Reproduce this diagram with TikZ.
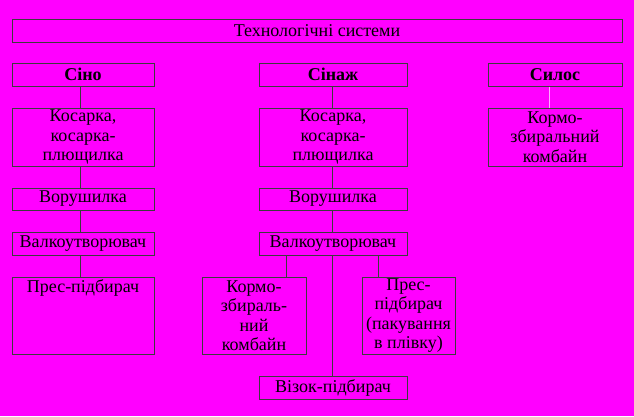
\documentclass[tikz,border=0pt]{standalone}
\usepackage{fontspec}
\setmainfont{Liberation Serif}
\newfontfamily\tnr{Liberation Serif}
\definecolor{bgmag}{RGB}{255,0,255}
\definecolor{edge}{RGB}{60,60,60}
\definecolor{paleline}{RGB}{255,170,255}
\begin{document}
\begin{tikzpicture}[x=1pt,y=-1pt,
  box/.style={draw=edge,line width=1pt,inner sep=0pt,align=center,
    font=\tnr\fontsize{18}{19.5}\selectfont,text=black},
  hbox/.style={box,font=\tnr\bfseries\fontsize{18}{19.5}\selectfont},
  lbl/.style={inner sep=0pt,align=center,font=\tnr\fontsize{18}{19.5}\selectfont,text=black},
  conn/.style={draw=edge,line width=1pt}]
\useasboundingbox (0,0) rectangle (634,416);
\fill[bgmag] (0,0) rectangle (634,416);
% title
\node[box,minimum width=610pt,minimum height=23pt] (title) at (317,30.5) {Технологічні системи};
% heads
\node[hbox,minimum width=142pt,minimum height=23pt] (sino) at (83,74.5) {Сіно};
\node[hbox,minimum width=148pt,minimum height=23pt] (sinazh) at (333,74.5) {Сінаж};
\node[hbox,minimum width=134pt,minimum height=23pt] (silos) at (555,74.5) {Силос};
% row 2
\node[box,minimum width=142pt,minimum height=58pt] (kos1) at (83,137) {Косарка,\\косарка-\\плющилка};
\node[box,minimum width=148pt,minimum height=58pt] (kos2) at (333,137) {Косарка,\\косарка-\\плющилка};
\node[box,minimum width=134pt,minimum height=58pt] (komb3) at (555,137) {Кормо-\\збиральний\\комбайн};
% row 3
\node[box,minimum width=142pt,minimum height=22pt] (vor1) at (83,199) {Ворушилка};
\node[box,minimum width=148pt,minimum height=22pt] (vor2) at (333,199) {Ворушилка};
% row 4
\node[box,minimum width=142pt,minimum height=23pt] (val1) at (83,243.5) {Валкоутворювач};
\node[box,minimum width=148pt,minimum height=23pt] (val2) at (333,243.5) {Валкоутворювач};
% row 5
\node[box,minimum width=142pt,minimum height=77pt] (pres1) at (83,315.5) {};
\node[lbl] (pres1t) at (83,288) {Прес-підбирач};
\node[box,minimum width=104pt,minimum height=77pt] (komb2) at (254,315.5) {Кормо-\\збираль-\\ний\\комбайн};
\node[box,minimum width=93pt,minimum height=77pt] (pres2) at (408.5,315.5) {Прес-\\підбирач\\(пакування\\в плівку)};
\node[box,minimum width=148pt,minimum height=23pt] (vizok) at (333,387.5) {Візок-підбирач};
% connector columns
\coordinate (c1) at (80,0);
\coordinate (c2) at (332,0);
\coordinate (c2l) at (286,0);
\coordinate (c2r) at (378,0);
\coordinate (c3) at (549,0);
\draw[conn] (sino.south -| c1) -- (kos1.north -| c1);
\draw[conn] (kos1.south -| c1) -- (vor1.north -| c1);
\draw[conn] (vor1.south -| c1) -- (val1.north -| c1);
\draw[conn] (val1.south -| c1) -- (pres1.north -| c1);
\draw[conn] (sinazh.south -| c2) -- (kos2.north -| c2);
\draw[conn] (kos2.south -| c2) -- (vor2.north -| c2);
\draw[conn] (vor2.south -| c2) -- (val2.north -| c2);
\draw[conn] (val2.south -| c2) -- (vizok.north -| c2);
\draw[conn] (val2.south -| c2l) -- (komb2.north -| c2l);
\draw[conn] (val2.south -| c2r) -- (pres2.north -| c2r);
\draw[draw=paleline,line width=1pt] (silos.south -| c3) -- (komb3.north -| c3);
\end{tikzpicture}
\end{document}
